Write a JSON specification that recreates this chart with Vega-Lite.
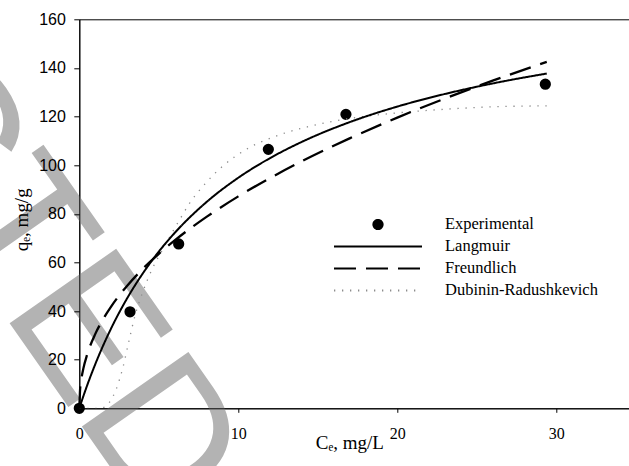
{
  "$schema": "https://vega.github.io/schema/vega-lite/v6.json",
  "width": 556.5,
  "height": 389,
  "autosize": {"type": "none"},
  "padding": {"left": 79.3, "top": 19.3, "right": 0, "bottom": 58},
  "config": {"view": {"stroke": "#000", "strokeWidth": 1}},
  "datasets": {
    "exp": [
      {"Ce": 0, "qe": 0, "series": "Experimental"},
      {"Ce": 3.19, "qe": 39.7, "series": "Experimental"},
      {"Ce": 6.25, "qe": 67.6, "series": "Experimental"},
      {"Ce": 11.89, "qe": 106.5, "series": "Experimental"},
      {"Ce": 16.77, "qe": 120.9, "series": "Experimental"},
      {"Ce": 29.31, "qe": 133.3, "series": "Experimental"}
    ],
    "lang": [
      {"Ce": 0, "qe": 0, "series": "Langmuir"}, {"Ce": 0.25, "qe": 4.89, "series": "Langmuir"}, {"Ce": 0.5, "qe": 9.52, "series": "Langmuir"}, {"Ce": 1, "qe": 18.08, "series": "Langmuir"},
      {"Ce": 1.5, "qe": 25.82, "series": "Langmuir"}, {"Ce": 2, "qe": 32.85, "series": "Langmuir"}, {"Ce": 3, "qe": 45.14, "series": "Langmuir"}, {"Ce": 4, "qe": 55.54, "series": "Langmuir"},
      {"Ce": 5, "qe": 64.44, "series": "Langmuir"}, {"Ce": 6, "qe": 72.14, "series": "Langmuir"}, {"Ce": 8, "qe": 84.83, "series": "Langmuir"}, {"Ce": 10, "qe": 94.83, "series": "Langmuir"},
      {"Ce": 12, "qe": 102.92, "series": "Langmuir"}, {"Ce": 14, "qe": 109.6, "series": "Langmuir"}, {"Ce": 17, "qe": 117.69, "series": "Langmuir"}, {"Ce": 20, "qe": 124.1, "series": "Langmuir"},
      {"Ce": 23, "qe": 129.3, "series": "Langmuir"}, {"Ce": 26, "qe": 133.62, "series": "Langmuir"}, {"Ce": 29.4, "qe": 137.69, "series": "Langmuir"}
    ],
    "freund": [
      {"Ce": 0, "qe": 0, "series": "Freundlich"}, {"Ce": 0.05, "qe": 7.78, "series": "Freundlich"}, {"Ce": 0.1, "qe": 10.67, "series": "Freundlich"}, {"Ce": 0.25, "qe": 16.21, "series": "Freundlich"},
      {"Ce": 0.5, "qe": 22.24, "series": "Freundlich"}, {"Ce": 1, "qe": 30.5, "series": "Freundlich"}, {"Ce": 1.5, "qe": 36.69, "series": "Freundlich"}, {"Ce": 2, "qe": 41.84, "series": "Freundlich"},
      {"Ce": 3, "qe": 50.33, "series": "Freundlich"}, {"Ce": 4, "qe": 57.39, "series": "Freundlich"}, {"Ce": 5, "qe": 63.54, "series": "Freundlich"}, {"Ce": 6, "qe": 69.05, "series": "Freundlich"},
      {"Ce": 8, "qe": 78.72, "series": "Freundlich"}, {"Ce": 10, "qe": 87.16, "series": "Freundlich"}, {"Ce": 12, "qe": 94.71, "series": "Freundlich"}, {"Ce": 14, "qe": 101.62, "series": "Freundlich"},
      {"Ce": 17, "qe": 111.01, "series": "Freundlich"}, {"Ce": 20, "qe": 119.55, "series": "Freundlich"}, {"Ce": 23, "qe": 127.43, "series": "Freundlich"}, {"Ce": 26, "qe": 134.75, "series": "Freundlich"},
      {"Ce": 29.4, "qe": 142.51, "series": "Freundlich"}
    ],
    "dr": [
      {"Ce": 0, "qe": 0, "series": "Dubinin-Radushkevich"}, {"Ce": 1.2, "qe": 0, "series": "Dubinin-Radushkevich"}, {"Ce": 1.6, "qe": 0.5, "series": "Dubinin-Radushkevich"}, {"Ce": 1.9, "qe": 2.5, "series": "Dubinin-Radushkevich"},
      {"Ce": 2.3, "qe": 7.5, "series": "Dubinin-Radushkevich"}, {"Ce": 2.75, "qe": 17, "series": "Dubinin-Radushkevich"}, {"Ce": 3.1, "qe": 27, "series": "Dubinin-Radushkevich"}, {"Ce": 3.5, "qe": 38, "series": "Dubinin-Radushkevich"},
      {"Ce": 4.0, "qe": 48, "series": "Dubinin-Radushkevich"}, {"Ce": 4.6, "qe": 57.5, "series": "Dubinin-Radushkevich"}, {"Ce": 5.3, "qe": 66, "series": "Dubinin-Radushkevich"}, {"Ce": 5.9, "qe": 73, "series": "Dubinin-Radushkevich"},
      {"Ce": 6.35, "qe": 78, "series": "Dubinin-Radushkevich"}, {"Ce": 6.9, "qe": 84, "series": "Dubinin-Radushkevich"}, {"Ce": 8.0, "qe": 93, "series": "Dubinin-Radushkevich"}, {"Ce": 9.0, "qe": 99.5, "series": "Dubinin-Radushkevich"},
      {"Ce": 10.5, "qe": 106.5, "series": "Dubinin-Radushkevich"}, {"Ce": 12.6, "qe": 112.5, "series": "Dubinin-Radushkevich"}, {"Ce": 14.5, "qe": 116, "series": "Dubinin-Radushkevich"}, {"Ce": 16.8, "qe": 119, "series": "Dubinin-Radushkevich"},
      {"Ce": 20, "qe": 121.5, "series": "Dubinin-Radushkevich"}, {"Ce": 23, "qe": 123, "series": "Dubinin-Radushkevich"}, {"Ce": 26, "qe": 124, "series": "Dubinin-Radushkevich"}, {"Ce": 29.4, "qe": 124.4, "series": "Dubinin-Radushkevich"}
    ],
    "wm": [{"label": "RETRACTED"}]
  },
  "layer": [
    {
      "data": {"name": "wm"},
      "mark": {"type": "text", "font": "Liberation Sans", "fontSize": 189, "angle": 55, "align": "right", "baseline": "alphabetic", "fill": "#b3b3b3", "opacity": 1},
      "encoding": {
        "x": {"datum": 4.53, "type": "quantitative", "scale": {"domain": [0, 35], "nice": false, "zero": false},
          "axis": {"values": [0, 10, 20, 30], "title": "Cₑ, mg/L", "grid": false, "domainColor": "#000", "tickColor": "#000", "tickSize": 4, "labelFont": "Liberation Serif", "labelFontSize": 16, "labelColor": "#000", "labelBaseline": "alphabetic", "labelPadding": 26, "labelFlush": false, "labelOverlap": false, "titleFont": "Liberation Serif", "titleFontSize": 19, "titleFontWeight": "normal", "titleColor": "#000", "titleX": 270, "titleY": 40.7, "titleBaseline": "alphabetic", "titleAlign": "center", "zindex": 1}},
        "y": {"datum": -48.2, "type": "quantitative", "scale": {"domain": [0, 160], "nice": false},
          "axis": {"values": [0, 20, 40, 60, 80, 100, 120, 140, 160], "title": "qₑ, mg/g", "grid": false, "domainColor": "#000", "tickColor": "#000", "tickSize": 5.5, "labelFont": "Liberation Sans", "labelFontSize": 16, "labelColor": "#000", "labelPadding": 8.5, "labelFlush": false, "labelOverlap": false, "titleFont": "Liberation Serif", "titleFontSize": 19, "titleFontWeight": "normal", "titleColor": "#000", "titleX": -48, "titleY": 200, "titleAngle": -90, "titleBaseline": "bottom", "titleAlign": "center", "zindex": 1}},
        "text": {"field": "label"}
      }
    },
    {
      "data": {"name": "exp"},
      "mark": {"type": "point", "filled": true, "fill": "#000", "size": 7744, "strokeWidth": 2, "opacity": 1},
      "encoding": {
        "x": {"field": "Ce", "type": "quantitative", "scale": {"domain": [0, 35], "nice": false, "zero": false},
          "axis": {"values": [0, 10, 20, 30], "title": "Cₑ, mg/L", "grid": false, "domainColor": "#000", "tickColor": "#000", "tickSize": 4, "labelFont": "Liberation Serif", "labelFontSize": 16, "labelColor": "#000", "labelBaseline": "alphabetic", "labelPadding": 26, "labelFlush": false, "labelOverlap": false, "titleFont": "Liberation Serif", "titleFontSize": 19, "titleFontWeight": "normal", "titleColor": "#000", "titleX": 270, "titleY": 40.7, "titleBaseline": "alphabetic", "titleAlign": "center", "zindex": 1}},
        "y": {"field": "qe", "type": "quantitative", "scale": {"domain": [0, 160], "nice": false},
          "axis": {"values": [0, 20, 40, 60, 80, 100, 120, 140, 160], "title": "qₑ, mg/g", "grid": false, "domainColor": "#000", "tickColor": "#000", "tickSize": 5.5, "labelFont": "Liberation Sans", "labelFontSize": 16, "labelColor": "#000", "labelPadding": 8.5, "labelFlush": false, "labelOverlap": false, "titleFont": "Liberation Serif", "titleFontSize": 19, "titleFontWeight": "normal", "titleColor": "#000", "titleX": -48, "titleY": 200, "titleAngle": -90, "titleBaseline": "bottom", "titleAlign": "center", "zindex": 1}},
        "shape": {"field": "series", "type": "nominal",
          "scale": {"domain": ["Experimental", "Langmuir", "Freundlich", "Dubinin-Radushkevich"], "range": ["M-0.105,0A0.105,0.105,0,1,1,0.105,0A0.105,0.105,0,1,1,-0.105,0Z", "M-1,0H1", "M-1,0H1", "M-1,0H1"]},
          "legend": {"orient": "none", "legendX": 253.7, "legendY": 194.3, "title": null, "padding": 0, "symbolSize": 7744, "clipHeight": 21.8, "rowPadding": 0, "labelOffset": 22, "labelFont": "Liberation Serif", "labelFontSize": 16.5, "labelColor": "#000", "labelLimit": 400, "symbolStrokeWidth": 2, "symbolOpacity": 1, "symbolFillColor": "#000"}},
        "stroke": {"field": "series", "type": "nominal",
          "scale": {"domain": ["Experimental", "Langmuir", "Freundlich", "Dubinin-Radushkevich"], "range": ["#000", "#000", "#000", "#8c8c8c"]},
          "legend": {"orient": "none", "legendX": 253.7, "legendY": 194.3, "title": null, "padding": 0, "symbolSize": 7744, "clipHeight": 21.8, "rowPadding": 0, "labelOffset": 22, "labelFont": "Liberation Serif", "labelFontSize": 16.5, "labelColor": "#000", "labelLimit": 400, "symbolStrokeWidth": 2, "symbolOpacity": 1, "symbolFillColor": "#000"}}
      }
    },
    {
      "data": {"name": "dr"},
      "mark": {"type": "line", "color": "#8c8c8c", "strokeWidth": 1.3, "interpolate": "monotone"},
      "encoding": {
        "x": {"field": "Ce", "type": "quantitative", "scale": {"domain": [0, 35], "nice": false, "zero": false},
          "axis": {"values": [0, 10, 20, 30], "title": "Cₑ, mg/L", "grid": false, "domainColor": "#000", "tickColor": "#000", "tickSize": 4, "labelFont": "Liberation Serif", "labelFontSize": 16, "labelColor": "#000", "labelBaseline": "alphabetic", "labelPadding": 26, "labelFlush": false, "labelOverlap": false, "titleFont": "Liberation Serif", "titleFontSize": 19, "titleFontWeight": "normal", "titleColor": "#000", "titleX": 270, "titleY": 40.7, "titleBaseline": "alphabetic", "titleAlign": "center", "zindex": 1}},
        "y": {"field": "qe", "type": "quantitative", "scale": {"domain": [0, 160], "nice": false},
          "axis": {"values": [0, 20, 40, 60, 80, 100, 120, 140, 160], "title": "qₑ, mg/g", "grid": false, "domainColor": "#000", "tickColor": "#000", "tickSize": 5.5, "labelFont": "Liberation Sans", "labelFontSize": 16, "labelColor": "#000", "labelPadding": 8.5, "labelFlush": false, "labelOverlap": false, "titleFont": "Liberation Serif", "titleFontSize": 19, "titleFontWeight": "normal", "titleColor": "#000", "titleX": -48, "titleY": 200, "titleAngle": -90, "titleBaseline": "bottom", "titleAlign": "center", "zindex": 1}},
        "strokeDash": {"field": "series", "type": "nominal",
          "scale": {"domain": ["Experimental", "Langmuir", "Freundlich", "Dubinin-Radushkevich"], "range": [[1, 0], [1, 0], [22, 10], [1.3, 6.7]]},
          "legend": {"orient": "none", "legendX": 253.7, "legendY": 194.3, "title": null, "padding": 0, "symbolSize": 7744, "clipHeight": 21.8, "rowPadding": 0, "labelOffset": 22, "labelFont": "Liberation Serif", "labelFontSize": 16.5, "labelColor": "#000", "labelLimit": 400, "symbolStrokeWidth": 2, "symbolOpacity": 1, "symbolFillColor": "#000"}}
      }
    },
    {
      "data": {"name": "freund"},
      "mark": {"type": "line", "color": "#000", "strokeWidth": 2.3, "interpolate": "monotone"},
      "encoding": {
        "x": {"field": "Ce", "type": "quantitative", "scale": {"domain": [0, 35], "nice": false, "zero": false},
          "axis": {"values": [0, 10, 20, 30], "title": "Cₑ, mg/L", "grid": false, "domainColor": "#000", "tickColor": "#000", "tickSize": 4, "labelFont": "Liberation Serif", "labelFontSize": 16, "labelColor": "#000", "labelBaseline": "alphabetic", "labelPadding": 26, "labelFlush": false, "labelOverlap": false, "titleFont": "Liberation Serif", "titleFontSize": 19, "titleFontWeight": "normal", "titleColor": "#000", "titleX": 270, "titleY": 40.7, "titleBaseline": "alphabetic", "titleAlign": "center", "zindex": 1}},
        "y": {"field": "qe", "type": "quantitative", "scale": {"domain": [0, 160], "nice": false},
          "axis": {"values": [0, 20, 40, 60, 80, 100, 120, 140, 160], "title": "qₑ, mg/g", "grid": false, "domainColor": "#000", "tickColor": "#000", "tickSize": 5.5, "labelFont": "Liberation Sans", "labelFontSize": 16, "labelColor": "#000", "labelPadding": 8.5, "labelFlush": false, "labelOverlap": false, "titleFont": "Liberation Serif", "titleFontSize": 19, "titleFontWeight": "normal", "titleColor": "#000", "titleX": -48, "titleY": 200, "titleAngle": -90, "titleBaseline": "bottom", "titleAlign": "center", "zindex": 1}},
        "strokeDash": {"field": "series", "type": "nominal",
          "scale": {"domain": ["Experimental", "Langmuir", "Freundlich", "Dubinin-Radushkevich"], "range": [[1, 0], [1, 0], [22, 10], [1.3, 6.7]]},
          "legend": {"orient": "none", "legendX": 253.7, "legendY": 194.3, "title": null, "padding": 0, "symbolSize": 7744, "clipHeight": 21.8, "rowPadding": 0, "labelOffset": 22, "labelFont": "Liberation Serif", "labelFontSize": 16.5, "labelColor": "#000", "labelLimit": 400, "symbolStrokeWidth": 2, "symbolOpacity": 1, "symbolFillColor": "#000"}}
      }
    },
    {
      "data": {"name": "lang"},
      "mark": {"type": "line", "color": "#000", "strokeWidth": 2, "interpolate": "monotone"},
      "encoding": {
        "x": {"field": "Ce", "type": "quantitative", "scale": {"domain": [0, 35], "nice": false, "zero": false},
          "axis": {"values": [0, 10, 20, 30], "title": "Cₑ, mg/L", "grid": false, "domainColor": "#000", "tickColor": "#000", "tickSize": 4, "labelFont": "Liberation Serif", "labelFontSize": 16, "labelColor": "#000", "labelBaseline": "alphabetic", "labelPadding": 26, "labelFlush": false, "labelOverlap": false, "titleFont": "Liberation Serif", "titleFontSize": 19, "titleFontWeight": "normal", "titleColor": "#000", "titleX": 270, "titleY": 40.7, "titleBaseline": "alphabetic", "titleAlign": "center", "zindex": 1}},
        "y": {"field": "qe", "type": "quantitative", "scale": {"domain": [0, 160], "nice": false},
          "axis": {"values": [0, 20, 40, 60, 80, 100, 120, 140, 160], "title": "qₑ, mg/g", "grid": false, "domainColor": "#000", "tickColor": "#000", "tickSize": 5.5, "labelFont": "Liberation Sans", "labelFontSize": 16, "labelColor": "#000", "labelPadding": 8.5, "labelFlush": false, "labelOverlap": false, "titleFont": "Liberation Serif", "titleFontSize": 19, "titleFontWeight": "normal", "titleColor": "#000", "titleX": -48, "titleY": 200, "titleAngle": -90, "titleBaseline": "bottom", "titleAlign": "center", "zindex": 1}},
        "strokeDash": {"field": "series", "type": "nominal",
          "scale": {"domain": ["Experimental", "Langmuir", "Freundlich", "Dubinin-Radushkevich"], "range": [[1, 0], [1, 0], [22, 10], [1.3, 6.7]]},
          "legend": {"orient": "none", "legendX": 253.7, "legendY": 194.3, "title": null, "padding": 0, "symbolSize": 7744, "clipHeight": 21.8, "rowPadding": 0, "labelOffset": 22, "labelFont": "Liberation Serif", "labelFontSize": 16.5, "labelColor": "#000", "labelLimit": 400, "symbolStrokeWidth": 2, "symbolOpacity": 1, "symbolFillColor": "#000"}}
      }
    }
  ]
}
